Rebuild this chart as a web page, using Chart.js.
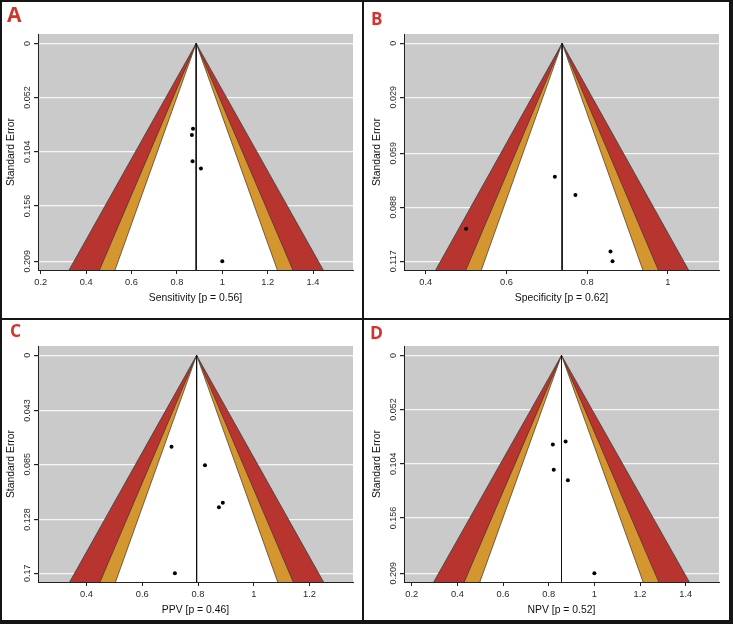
<!DOCTYPE html>
<html>
<head>
<meta charset="utf-8">
<script src="https://cdn.jsdelivr.net/npm/chart.js@4.4.1/dist/chart.umd.min.js"></script>
<style>
body { margin: 0; background: #fff; }
#page { position: relative; width: 733px; height: 624px; overflow: hidden; }
canvas { position: absolute; }
.rule { position: absolute; background: #151515; z-index: 2; }
.tag { position: absolute; z-index: 3; color: #d1342b; line-height: 1;
       font-family: "Open Sans", "Liberation Sans", sans-serif; font-weight: bold; }
</style>
</head>
<body>
<div id="page">
  <canvas id="chartA" width="360" height="306" style="left:2px;top:2px"></canvas>
  <canvas id="chartB" width="360" height="306" style="left:368px;top:2px"></canvas>
  <canvas id="chartC" width="360" height="306" style="left:2px;top:314px"></canvas>
  <canvas id="chartD" width="360" height="306" style="left:368px;top:314px"></canvas>

  <div class="rule" style="left:0;top:0;width:733px;height:2px"></div>
  <div class="rule" style="left:0;top:620px;width:733px;height:4px"></div>
  <div class="rule" style="left:0;top:0;width:2px;height:624px"></div>
  <div class="rule" style="left:729px;top:0;width:4px;height:624px"></div>
  <div class="rule" style="left:362px;top:0;width:2px;height:624px"></div>
  <div class="rule" style="left:0;top:318px;width:733px;height:2px"></div>

  <div class="tag" style="left:7px;top:4px;font-size:21px">A</div>
  <div class="tag" style="left:371px;top:10px;font-size:17px">B</div>
  <div class="tag" style="left:10px;top:322px;font-size:17.5px">C</div>
  <div class="tag" style="left:370px;top:324px;font-size:17.5px">D</div>
</div>

<script>
// contour levels of the funnel: 90%, 95%, 99%
const zLevels = [1.645, 1.96, 2.576];

// A - sensitivity
const sensCenter = 0.885;
const sensX  = [0.871, 0.866, 0.869, 0.906, 1.0];
const sensSE = [0.082, 0.088, 0.113, 0.120, 0.209];
const sensTicksX  = [0.2, 0.4, 0.6, 0.8, 1, 1.2, 1.4];
const sensTicksSE = [0, 0.052, 0.104, 0.156, 0.209];

// B - specificity
const specCenter = 0.738;
const specX  = [0.720, 0.771, 0.500, 0.858, 0.863];
const specSE = [0.0716, 0.0815, 0.0996, 0.1118, 0.117];
const specTicksX  = [0.4, 0.6, 0.8, 1];
const specTicksSE = [0, 0.029, 0.059, 0.088, 0.117];

// C - PPV
const ppvCenter = 0.795;
const ppvX  = [0.705, 0.825, 0.889, 0.875, 0.717];
const ppvSE = [0.0712, 0.0858, 0.115, 0.1184, 0.17];
const ppvTicksX  = [0.4, 0.6, 0.8, 1, 1.2];
const ppvTicksSE = [0, 0.043, 0.085, 0.128, 0.17];

// D - NPV
const npvCenter = 0.856;
const npvX  = [0.818, 0.874, 0.822, 0.884, 1.0];
const npvSE = [0.0856, 0.0827, 0.1096, 0.1199, 0.209];
const npvTicksX  = [0.2, 0.4, 0.6, 0.8, 1, 1.2, 1.4];
const npvTicksSE = [0, 0.052, 0.104, 0.156, 0.209];

const FONT = "'Liberation Sans', Arial, sans-serif";

const grayBg = {
  id: 'grayBg',
  beforeDraw(chart) {
    const a = chart.chartArea, c = chart.ctx;
    c.save();
    c.fillStyle = '#cacaca';
    c.fillRect(a.left, a.top, a.right - a.left, a.bottom - a.top);
    c.restore();
  }
};

function drawPanel(id, center, xs, ses, ticksX, ticksSE, xRange, seRange, label) {
  const yb = seRange[1];
  const cone = z => [{x: center - z * yb, y: yb}, {x: center, y: 0}, {x: center + z * yb, y: yb}];
  const area = (z, col, ord) => ({
    data: cone(z), showLine: true, fill: 'shape', backgroundColor: col,
    borderColor: '#3a3030', borderWidth: 0.7, pointRadius: 0, tension: 0, order: ord
  });

  new Chart(document.getElementById(id), {
    type: 'scatter',
    data: {
      datasets: [
        { data: xs.map((x, i) => ({x: x, y: ses[i]})), pointRadius: 2,
          backgroundColor: '#000', borderWidth: 0, order: 1 },
        { data: [{x: center, y: 0}, {x: center, y: yb}], showLine: true, pointRadius: 0,
          borderColor: '#111', borderWidth: 1, order: 2 },
        area(zLevels[0], '#ffffff', 3),
        area(zLevels[1], '#d4962f', 4),
        area(zLevels[2], '#b8352f', 5)
      ]
    },
    options: {
      responsive: false,
      devicePixelRatio: 1,
      animation: false,
      events: [],
      layout: { padding: { left: 0, top: 32, right: 9, bottom: 2 } },
      plugins: { legend: { display: false }, tooltip: { enabled: false } },
      scales: {
        x: {
          type: 'linear', min: xRange[0], max: xRange[1],
          afterBuildTicks: s => { s.ticks = ticksX.map(v => ({value: v})); },
          afterFit: s => { s.height = 36; },
          grid: { display: true, drawOnChartArea: false, drawTicks: true, tickLength: 4,
                  tickColor: '#222', z: 1 },
          border: { display: true, color: '#222', width: 1, z: 1 },
          ticks: { padding: 3, autoSkip: false, maxRotation: 0, color: '#2a2a2a',
                   font: { family: FONT, size: 9.3 }, callback: v => String(v) },
          title: { display: true, text: label, color: '#111',
                   font: { family: FONT, size: 10.4 }, padding: { top: 0, bottom: 1.5 } }
        },
        y: {
          type: 'linear', reverse: true, min: seRange[0], max: seRange[1],
          afterBuildTicks: s => { s.ticks = ticksSE.map(v => ({value: v})); },
          afterFit: s => { s.width = 36; },
          grid: { color: '#f6f6f6', lineWidth: 1.2, tickLength: 4, tickColor: '#222' },
          border: { display: true, color: '#222', width: 1, z: 1 },
          ticks: { minRotation: 90, maxRotation: 90, crossAlign: 'center', padding: -4.5,
                   autoSkip: false, color: '#2a2a2a', font: { family: FONT, size: 9 },
                   callback: v => String(v) },
          title: { display: true, text: 'Standard Error', color: '#111',
                   font: { family: FONT, size: 10.4 }, padding: { top: 3, bottom: 0 } }
        }
      }
    },
    plugins: [grayBg]
  });
}

drawPanel('chartA', sensCenter, sensX, sensSE, sensTicksX, sensTicksSE,
          [0.188, 1.576], [-0.009, 0.2174], 'Sensitivity [p = 0.56]');
drawPanel('chartB', specCenter, specX, specSE, specTicksX, specTicksSE,
          [0.346, 1.127], [-0.005, 0.1217], 'Specificity [p = 0.62]');
drawPanel('chartC', ppvCenter, ppvX, ppvSE, ppvTicksX, ppvTicksSE,
          [0.226, 1.356], [-0.0073, 0.1768], 'PPV [p = 0.46]');
drawPanel('chartD', npvCenter, npvX, npvSE, npvTicksX, npvTicksSE,
          [0.166, 1.546], [-0.009, 0.2174], 'NPV [p = 0.52]');
</script>
</body>
</html>
